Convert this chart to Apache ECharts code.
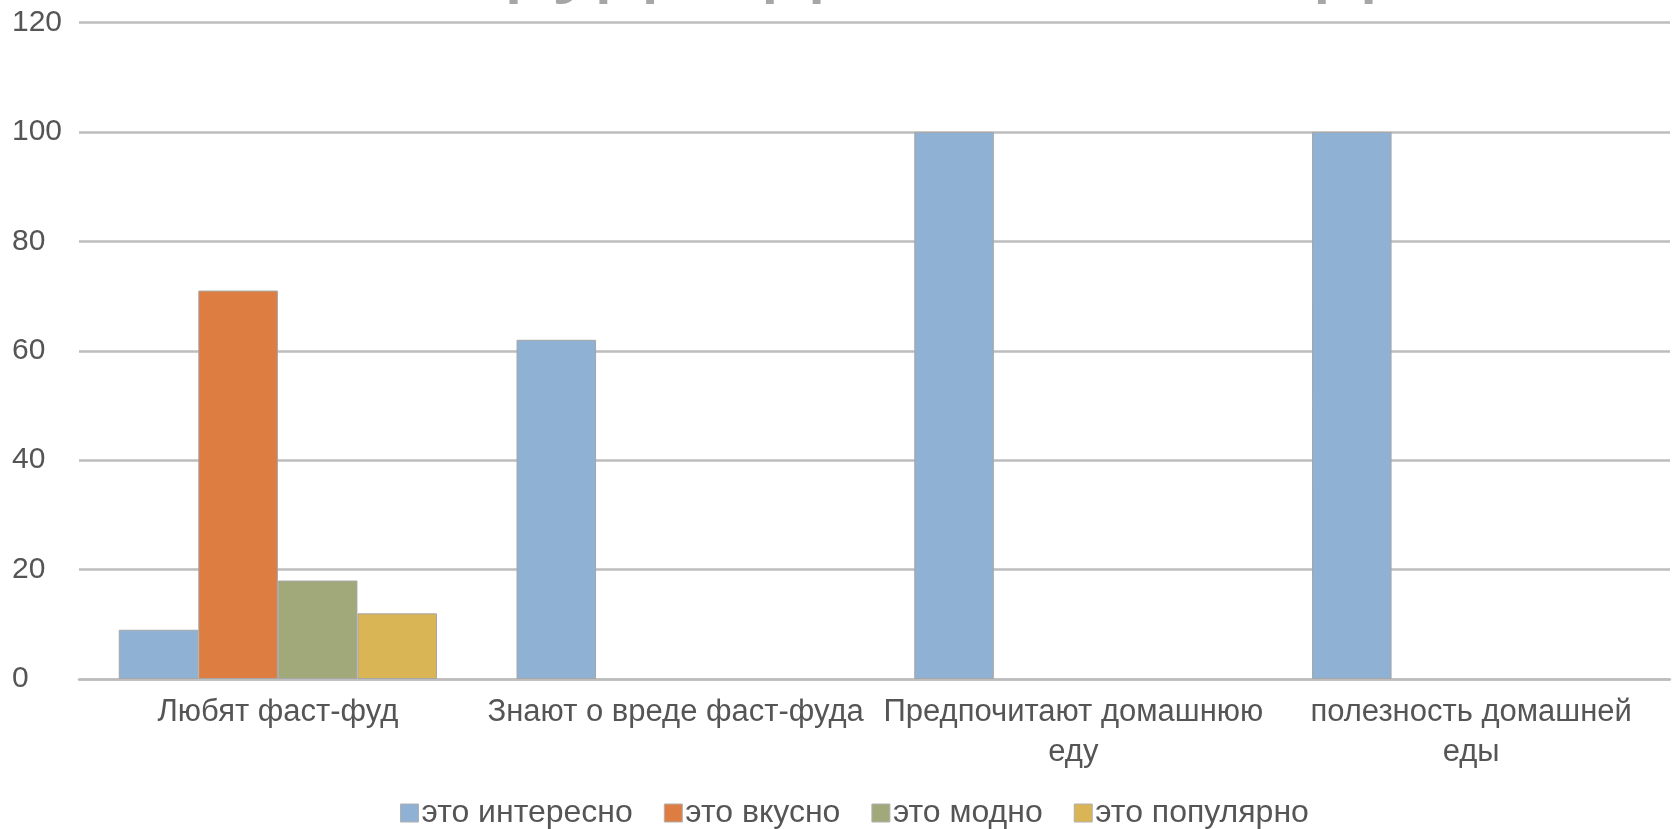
<!DOCTYPE html>
<html>
<head>
<meta charset="utf-8">
<script src="https://cdn.jsdelivr.net/npm/echarts@6/dist/echarts.min.js"></script>
<style>
  html, body { margin: 0; padding: 0; background: #fff; }
  #chart { width: 1679px; height: 829px; }
</style>
</head>
<body>
<div id="chart"></div>
<script>
// Survey results: attitudes to fast food and home cooking
const categories = [
  'Любят фаст-фуд',
  'Знают о вреде фаст-фуда',
  'Предпочитают домашнюю\nеду',
  'полезность домашней\nеды'
];
const seriesNames = ['это интересно', 'это вкусно', 'это модно', 'это популярно'];
const interesting = [9, 62, 100, 100];
const tasty = [71, 0, 0, 0];
const trendy = [18, 0, 0, 0];
const popular = [12, 0, 0, 0];
const yTicks = [0, 20, 40, 60, 80, 100, 120];

const colors = ['#8fb1d4', '#dd7d42', '#a1a97a', '#d9b556'];
const values = [interesting, tasty, trendy, popular];

const font = '"Liberation Sans", Arial, sans-serif';
const chart = echarts.init(document.getElementById('chart'));

// empty bars get no outline so they do not show up on the baseline
const barData = vals => vals.map(v => v === 0 ? { value: v, itemStyle: { borderWidth: 0 } } : v);

chart.setOption({
  animation: false,
  color: colors,
  title: {
    text: 'Фастфуд и домашняя еда',
    left: 'center',
    top: -97,
    textStyle: { fontFamily: font, fontSize: 98, fontWeight: 'normal', color: '#a6a6a6' }
  },
  grid: { left: 79, right: 9, top: 22.5, bottom: 150 },
  legend: {
    top: 797,
    left: 400,
    padding: 0,
    itemWidth: 18,
    itemHeight: 18,
    itemGap: 31,
    icon: 'rect',
    itemStyle: { borderColor: '#b0b0b0', borderWidth: 1 },
    textStyle: { fontFamily: font, fontSize: 32, color: '#555555', padding: [0, 0, 0, -2] },
    data: seriesNames
  },
  xAxis: {
    type: 'category',
    data: categories,
    axisTick: { show: false },
    axisLine: { lineStyle: { color: '#bdbdbd', width: 2.5 } },
    axisLabel: {
      interval: 0,
      margin: 13,
      fontFamily: font,
      fontSize: 31,
      lineHeight: 40,
      color: '#555555'
    }
  },
  yAxis: {
    type: 'value',
    min: yTicks[0],
    max: yTicks[yTicks.length - 1],
    interval: yTicks[1] - yTicks[0],
    axisLine: { show: false },
    axisTick: { show: false },
    splitLine: { lineStyle: { color: '#bdbdbd', width: 2.5 } },
    axisLabel: {
      align: 'left',
      margin: 67,
      fontFamily: font,
      fontSize: 30,
      color: '#555555'
    }
  },
  series: seriesNames.map((name, i) => ({
    name: name,
    type: 'bar',
    data: barData(values[i]),
    barGap: '0%',
    barCategoryGap: '20%',
    itemStyle: { color: colors[i], borderColor: '#a6a6a6', borderWidth: 1 }
  }))
});
</script>
</body>
</html>
